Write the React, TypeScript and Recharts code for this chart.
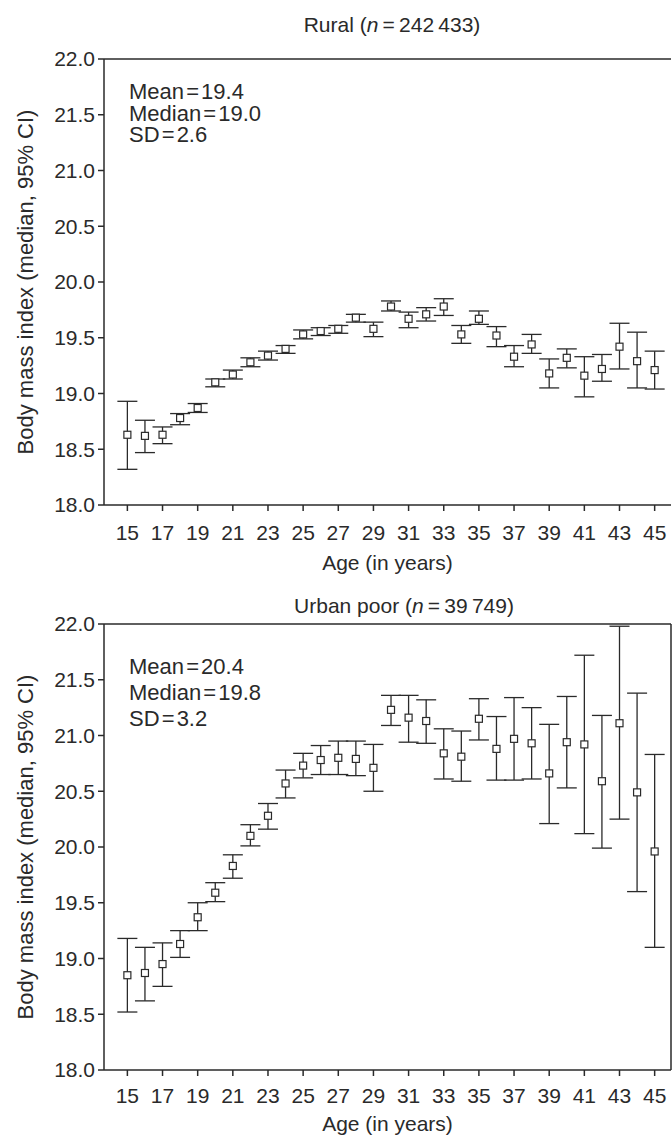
import { ComposedChart, Scatter, ErrorBar, XAxis, YAxis, ReferenceLine } from 'recharts'

const ages = [15, 16, 17, 18, 19, 20, 21, 22, 23, 24, 25, 26, 27, 28, 29, 30, 31, 32, 33, 34, 35, 36, 37, 38, 39, 40, 41, 42, 43, 44, 45]
const ageTicks = [15, 17, 19, 21, 23, 25, 27, 29, 31, 33, 35, 37, 39, 41, 43, 45]
const bmiTicks = [18, 18.5, 19, 19.5, 20, 20.5, 21, 21.5, 22]

const ruralMedian = [18.63, 18.62, 18.63, 18.78, 18.87, 19.1, 19.17, 19.28, 19.34, 19.4, 19.53, 19.56, 19.58, 19.68, 19.58, 19.78, 19.67, 19.71, 19.78, 19.53, 19.67, 19.52, 19.33, 19.44, 19.18, 19.32, 19.16, 19.22, 19.42, 19.29, 19.21]
const ruralLower = [18.32, 18.47, 18.55, 18.72, 18.83, 19.06, 19.13, 19.24, 19.3, 19.36, 19.49, 19.52, 19.54, 19.64, 19.51, 19.74, 19.59, 19.65, 19.7, 19.45, 19.62, 19.42, 19.24, 19.36, 19.05, 19.23, 18.97, 19.11, 19.22, 19.05, 19.04]
const ruralUpper = [18.93, 18.76, 18.7, 18.82, 18.91, 19.13, 19.21, 19.32, 19.38, 19.43, 19.57, 19.59, 19.61, 19.71, 19.64, 19.83, 19.73, 19.77, 19.85, 19.61, 19.74, 19.6, 19.43, 19.53, 19.31, 19.4, 19.33, 19.35, 19.63, 19.55, 19.38]

const urbanMedian = [18.85, 18.87, 18.95, 19.13, 19.37, 19.59, 19.83, 20.1, 20.28, 20.57, 20.73, 20.78, 20.8, 20.79, 20.71, 21.23, 21.16, 21.13, 20.84, 20.81, 21.15, 20.88, 20.97, 20.93, 20.66, 20.94, 20.92, 20.59, 21.11, 20.49, 19.96]
const urbanLower = [18.52, 18.62, 18.75, 19.01, 19.25, 19.51, 19.72, 20.01, 20.16, 20.44, 20.62, 20.65, 20.65, 20.64, 20.5, 21.09, 20.94, 20.93, 20.61, 20.59, 20.96, 20.6, 20.6, 20.61, 20.21, 20.53, 20.12, 19.99, 20.25, 19.6, 19.1]
const urbanUpper = [19.18, 19.1, 19.14, 19.25, 19.5, 19.68, 19.93, 20.2, 20.39, 20.69, 20.84, 20.91, 20.95, 20.95, 20.92, 21.36, 21.36, 21.32, 21.06, 21.04, 21.33, 21.17, 21.34, 21.25, 21.1, 21.35, 21.72, 21.18, 21.98, 21.38, 20.83]

const ruralStats = ['Mean = 19.4', 'Median = 19.0', 'SD = 2.6']
const urbanStats = ['Mean = 20.4', 'Median = 19.8', 'SD = 3.2']

const FONT = '"Liberation Sans", Arial, Helvetica, sans-serif'
const INK = '#2a2a2a'
const X_DOMAIN: [number, number] = [13.67, 45.93]

const buildRows = (median: number[], lower: number[], upper: number[]) =>
    ages.map((age, i) => ({
        age,
        bmi: median[i],
        ci: [median[i] - lower[i], upper[i] - median[i]],
    }))

const ruralData = buildRows(ruralMedian, ruralLower, ruralUpper)
const urbanData = buildRows(urbanMedian, urbanLower, urbanUpper)

const SquareMarker = (props: { cx?: number; cy?: number }) => {
    const { cx, cy } = props
    if (cx == null || cy == null) return null
    return <rect x={cx - 3.5} y={cy - 3.5} width={7} height={7} fill="#fff" stroke={INK} strokeWidth={1.2} />
}

interface PanelProps {
    data: { age: number; bmi: number; ci: number[] }[]
    height: number
    top: number
    tickMargin: number
    labelOffset: number
    rightBorder: boolean
}

function Panel({ data, height, top, tickMargin, labelOffset, rightBorder }: PanelProps) {
    return (
        <ComposedChart
            width={672}
            height={height}
            data={data}
            margin={{ top, right: 1, left: 0, bottom: 0 }}
            style={{ position: 'absolute', left: 0, top: 0 }}
        >
            <XAxis
                type="number"
                dataKey="age"
                domain={X_DOMAIN}
                ticks={ageTicks}
                allowDataOverflow
                height={height - top - 446}
                stroke={INK}
                strokeWidth={1.5}
                tickSize={6}
                tickMargin={tickMargin}
                tick={{ fill: INK, fontSize: 21, fontFamily: FONT }}
                label={{ value: 'Age (in years)', position: 'insideBottom', offset: labelOffset, fill: INK, fontSize: 21, fontFamily: FONT }}
            />
            <YAxis
                type="number"
                domain={[18, 22]}
                ticks={bmiTicks}
                width={104}
                stroke={INK}
                strokeWidth={1.5}
                tickSize={6}
                tickMargin={3}
                tickFormatter={(v: number) => v.toFixed(1)}
                tick={{ fill: INK, fontSize: 21, fontFamily: FONT }}
                label={{
                    value: 'Body mass index (median, 95% CI)',
                    angle: -90,
                    position: 'insideLeft',
                    offset: 25,
                    fill: INK,
                    fontSize: 22,
                    fontFamily: FONT,
                    style: { textAnchor: 'middle' },
                }}
            />
            <ReferenceLine y={22} stroke={INK} strokeWidth={1.5} />
            {rightBorder && <ReferenceLine x={X_DOMAIN[1]} stroke={INK} strokeWidth={1.5} />}
            <Scatter dataKey="bmi" shape={<SquareMarker />} isAnimationActive={false}>
                <ErrorBar dataKey="ci" direction="y" width={10} stroke={INK} strokeWidth={1.3} />
            </Scatter>
        </ComposedChart>
    )
}

// thin spaces, as in the printed figure
const Title = ({ top, left, label, n }: { top: number; left: number; label: string; n: string }) => (
    <div
        style={{
            position: 'absolute', left, width: 576, top, textAlign: 'center',
            fontSize: 21, lineHeight: '21px', color: INK, fontFamily: FONT,
        }}
    >
        {label} (<i>n</i>{'\u2009=\u2009'}{n})
    </div>
)

const Stats = ({ top, lines, lineHeight }: { top: number; lines: string[]; lineHeight: number }) => (
    <div
        style={{
            position: 'absolute', left: 129, top, fontSize: 22, lineHeight: `${lineHeight}px`,
            color: INK, fontFamily: FONT, wordSpacing: -4,
        }}
    >
        {lines.map((l) => <div key={l}>{l}</div>)}
    </div>
)

export default function App() {
    return (
        <div style={{ position: 'absolute', left: 0, top: 0, width: 672, height: 1137, background: '#fff', overflow: 'hidden' }}>
            <div style={{ position: 'absolute', left: 0, top: 0, width: 672, height: 575 }}>
                <Panel data={ruralData} height={575} top={59} tickMargin={14} labelOffset={5} rightBorder={false} />
                <Title top={14} left={104} label="Rural" n={'242\u2009433'} />
                <Stats top={81} lines={ruralStats} lineHeight={21.7} />
            </div>
            <div style={{ position: 'absolute', left: 0, top: 575, width: 672, height: 562 }}>
                <Panel data={urbanData} height={562} top={49} tickMargin={12} labelOffset={6} rightBorder />
                <Title top={20} left={116} label="Urban poor" n={'39\u2009749'} />
                <Stats top={79} lines={urbanStats} lineHeight={26.2} />
            </div>
        </div>
    )
}
